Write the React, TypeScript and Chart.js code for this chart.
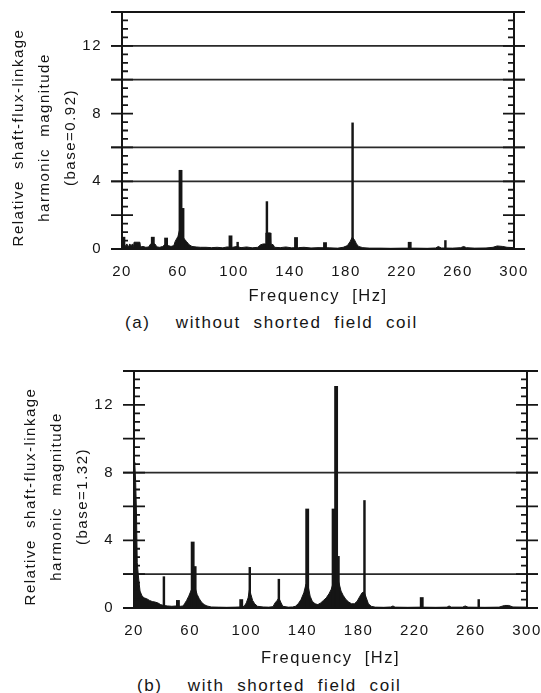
import React, { useEffect, useRef } from 'react';
import { Chart, registerables } from 'chart.js';

Chart.register(...registerables);

// ---------- axis ranges / ticks ----------
const freqMin = 20;
const freqMax = 300;
const freqStep = 40;
const magMin = 0;
const magMax = 14;
const magStep = 2;
const magLabelStep = 4;
const magMinorStep = 0.5;

// ---------- panel (a): without shorted field coil ----------
const aFloorFreq = [20, 21.5, 22.5, 23.5, 24.5, 25.5, 26.5, 27.5, 28.3, 28.6, 32.8, 33.2, 35, 37, 39, 40.5, 43.5, 45, 47, 49, 50.5, 53, 55, 57, 58, 59, 60, 61, 62, 63, 64, 65, 66, 67, 68, 70, 73, 76, 80, 84, 88, 92, 95, 99, 102, 105, 109, 113, 117, 119, 121, 122.6, 122.8, 126, 126.3, 128, 129, 133, 137, 141, 146, 150, 155, 160, 168, 174, 178, 181, 183, 184.5, 186, 187.5, 189, 192, 197, 205, 212, 220, 230, 238, 244, 246, 248, 256, 262, 264, 266, 272, 280, 285, 288, 292, 295, 300];
const aFloorMag = [0.3, 0.35, 0.15, 0.3, 0.1, 0.3, 0.2, 0.3, 0.15, 0.4, 0.4, 0.12, 0.15, 0.1, 0.12, 0.3, 0.3, 0.12, 0.1, 0.15, 0.25, 0.2, 0.15, 0.2, 0.45, 0.6, 0.75, 1.1, 1.1, 0.9, 0.65, 0.55, 0.45, 0.35, 0.25, 0.15, 0.12, 0.1, 0.1, 0.08, 0.1, 0.07, 0.12, 0.1, 0.15, 0.08, 0.12, 0.07, 0.1, 0.25, 0.3, 0.3, 0.95, 0.95, 0.3, 0.25, 0.1, 0.08, 0.12, 0.07, 0.08, 0.1, 0.06, 0.08, 0.07, 0.05, 0.1, 0.2, 0.45, 0.7, 0.55, 0.3, 0.15, 0.08, 0.05, 0.05, 0.04, 0.05, 0.05, 0.04, 0.06, 0.15, 0.06, 0.05, 0.08, 0.15, 0.08, 0.05, 0.06, 0.1, 0.18, 0.15, 0.1, 0.08];
const aWideFreq = [21, 42, 51.5, 61.8, 63.2, 97.5, 144.3, 165, 225.5];
const aWideMag = [0.7, 0.7, 0.65, 4.65, 2.4, 0.78, 0.68, 0.38, 0.4];
const aThinFreq = [102.6, 123.5, 184.7, 251];
const aThinMag = [0.4, 2.8, 7.45, 0.5];
const aGridLines = [4, 6, 10, 12];
const aYTitle = ['Relative  shaft-flux-linkage', 'harmonic  magnitude', '(base=0.92)'];
const aCaption = '(a)    without  shorted  field  coil';

// ---------- panel (b): with shorted field coil ----------
const bFloorFreq = [20, 20.6, 21.2, 21.8, 22.3, 23, 23.6, 24.3, 25.5, 27, 29, 31, 33, 35, 37, 39, 41, 44, 47, 50, 53, 55, 56, 57.5, 59, 60.5, 62, 63.5, 65, 66.5, 68, 70, 72, 75, 80, 86, 92, 95, 98.5, 100, 101.3, 102.3, 103.3, 104.5, 106, 108, 112, 116, 119, 120.5, 122, 123.2, 124.5, 126, 130, 133, 135, 137, 139, 141, 142.5, 144.3, 145.5, 147, 149, 151, 153, 155, 157, 159, 160.5, 162, 163, 164.5, 166, 167.5, 169, 171, 173, 175, 177, 179, 181, 182.5, 184, 185.5, 187, 189, 192, 198, 203, 204.5, 206, 215, 224, 235, 243, 244.5, 246, 254, 256, 258, 270, 280, 284, 287, 290, 300];
const bFloorMag = [8.6, 8.5, 7.4, 5.5, 2.7, 2.0, 1.5, 1.0, 0.75, 0.6, 0.55, 0.45, 0.38, 0.35, 0.3, 0.2, 0.15, 0.12, 0.1, 0.12, 0.1, 0.12, 0.25, 0.45, 0.7, 1.0, 1.3, 1.2, 0.8, 0.55, 0.35, 0.2, 0.12, 0.06, 0.05, 0.04, 0.05, 0.06, 0.1, 0.3, 0.6, 1.1, 0.8, 0.45, 0.25, 0.1, 0.06, 0.05, 0.08, 0.3, 0.45, 0.6, 0.35, 0.1, 0.05, 0.06, 0.1, 0.25, 0.5, 0.9, 1.4, 1.2, 0.7, 0.4, 0.25, 0.2, 0.3, 0.45, 0.6, 0.85, 1.1, 1.5, 1.7, 1.9, 1.5, 1.0, 0.75, 0.5, 0.35, 0.25, 0.25, 0.4, 0.7, 0.9, 0.95, 0.6, 0.25, 0.1, 0.05, 0.04, 0.06, 0.12, 0.05, 0.04, 0.05, 0.04, 0.05, 0.12, 0.05, 0.05, 0.12, 0.05, 0.04, 0.05, 0.15, 0.15, 0.06, 0.05];
const bWideFreq = [51.3, 61.8, 63.2, 96.4, 143.4, 162.2, 164, 165.2, 225];
const bWideMag = [0.45, 3.9, 2.45, 0.5, 5.85, 5.85, 13.1, 3.05, 0.62];
const bThinFreq = [41.3, 102.5, 123.2, 184.2, 265.6];
const bThinMag = [1.85, 2.4, 1.7, 6.35, 0.5];
const bGridLines = [2, 8];
const bYTitle = ['Relative  shaft-flux-linkage', 'harmonic  magnitude', '(base=1.32)'];
const bCaption = '(b)    with  shorted  field  coil';

const xTitle = 'Frequency  [Hz]';

// ---------- styling ----------
const FONT = "'Liberation Sans', Arial, Helvetica, sans-serif";
const INK = '#151515';
const GRID_INK = '#2a2a2a';
const PLOT_LEFT = 122;
const PLOT_TOP = 12;
const PLOT_BOTTOM = 249;
const EXT = 11;
const MINOR_LEN = 6;
const Y_TITLE_SHIFT = 7;

type Panel = {
  floorFreq: number[];
  floorMag: number[];
  wideFreq: number[];
  wideMag: number[];
  thinFreq: number[];
  thinMag: number[];
  gridLines: number[];
  yTitle: string[];
};

const toPoints = (fs: number[], ms: number[]) => fs.map((x, i) => ({ x, y: ms[i] }));

function makeFramePlugin(gridLines: number[]) {
  return {
    id: 'frame',
    afterLayout(chart: any) {
      // nudge only the vertical centre used for the rotated y-axis title
      chart.scales.y.bottom += 2 * Y_TITLE_SHIFT;
    },
    beforeDraw(chart: any) {
      chart.ctx.letterSpacing = '1.5px';
    },
    beforeDatasetsDraw(chart: any) {
      const { ctx, chartArea: a, scales } = chart;
      const y = scales.y;
      ctx.save();
      ctx.strokeStyle = GRID_INK;
      ctx.lineWidth = 1.7;
      ctx.beginPath();
      for (const v of gridLines) {
        const py = y.getPixelForValue(v);
        ctx.moveTo(a.left - EXT, py);
        ctx.lineTo(a.right + EXT, py);
      }
      ctx.stroke();
      ctx.restore();
    },
    afterDatasetsDraw(chart: any) {
      const { ctx, chartArea: a, scales } = chart;
      const y = scales.y;
      const pTop = y.getPixelForValue(y.max);
      const pBot = y.getPixelForValue(y.min);
      ctx.save();
      ctx.strokeStyle = INK;
      ctx.lineWidth = 2;
      ctx.beginPath();
      ctx.moveTo(a.left - EXT, pTop);
      ctx.lineTo(a.right + EXT, pTop);
      ctx.moveTo(a.left, pTop);
      ctx.lineTo(a.left, pBot);
      ctx.moveTo(a.right, pTop);
      ctx.lineTo(a.right, pBot);
      ctx.moveTo(a.left, pBot);
      ctx.lineTo(a.right, pBot);
      ctx.stroke();
      ctx.lineWidth = 1.8;
      ctx.beginPath();
      for (let v = y.min; v <= y.max + 1e-9; v += magMinorStep) {
        const py = y.getPixelForValue(v);
        const major = Math.abs(v / magStep - Math.round(v / magStep)) < 1e-6;
        if (major) {
          ctx.moveTo(a.left - EXT, py);
          ctx.lineTo(a.left + EXT, py);
          ctx.moveTo(a.right - EXT, py);
          ctx.lineTo(a.right + EXT, py);
        } else {
          ctx.moveTo(a.left, py);
          ctx.lineTo(a.left + MINOR_LEN, py);
          ctx.moveTo(a.right - MINOR_LEN, py);
          ctx.lineTo(a.right, py);
        }
      }
      ctx.stroke();
      ctx.restore();
    },
  };
}

function buildConfig(p: Panel, height: number, padRight: number): any {
  return {
    type: 'bar',
    data: {
      datasets: [
        {
          type: 'line',
          data: toPoints(p.floorFreq, p.floorMag),
          borderColor: INK,
          backgroundColor: INK,
          borderWidth: 1,
          pointRadius: 0,
          fill: 'origin',
          tension: 0,
          order: 3,
        },
        {
          type: 'bar',
          data: toPoints(p.wideFreq, p.wideMag),
          backgroundColor: INK,
          borderWidth: 0,
          barThickness: 3.2,
          grouped: false,
          order: 2,
        },
        {
          type: 'bar',
          data: toPoints(p.thinFreq, p.thinMag),
          backgroundColor: INK,
          borderWidth: 0,
          barThickness: 1.8,
          grouped: false,
          order: 1,
        },
      ],
    },
    options: {
      responsive: false,
      animation: false,
      events: [],
      layout: { padding: { top: PLOT_TOP, right: padRight, left: 0, bottom: 0 } },
      plugins: { legend: { display: false }, tooltip: { enabled: false } },
      scales: {
        x: {
          type: 'linear',
          min: freqMin,
          max: freqMax,
          offset: false,
          grid: { display: false, drawTicks: false },
          border: { display: false },
          ticks: {
            stepSize: freqStep,
            autoSkip: false,
            maxRotation: 0,
            padding: 14,
            color: INK,
            font: { family: FONT, size: 15 },
          },
          title: {
            display: true,
            text: xTitle,
            color: INK,
            font: { family: FONT, size: 16.5, lineHeight: '20px' },
            padding: { top: 0, bottom: 4 },
          },
          afterFit: (s: any) => {
            s.height = height - PLOT_BOTTOM;
            s.paddingLeft = 0;
            s.paddingRight = 0;
          },
        },
        y: {
          type: 'linear',
          min: magMin,
          max: magMax,
          grid: { display: false, drawTicks: false },
          border: { display: false },
          ticks: {
            stepSize: magStep,
            padding: 20,
            color: INK,
            font: { family: FONT, size: 15 },
            callback: (v: number) => (v % magLabelStep === 0 && v < magMax ? String(v) : ''),
          },
          title: {
            display: true,
            text: p.yTitle,
            color: INK,
            font: { family: FONT, size: 15, lineHeight: '26px' },
            padding: { top: 6, bottom: 0 },
          },
          afterFit: (s: any) => {
            s.width = PLOT_LEFT;
            s.paddingTop = 0;
            s.paddingBottom = 0;
          },
        },
      },
    },
    plugins: [makeFramePlugin(p.gridLines)],
  };
}

function SpectrumChart(props: {
  panel: Panel;
  left: number;
  top: number;
  width: number;
  height: number;
  padRight: number;
}) {
  const { panel, left, top, width, height, padRight } = props;
  const ref = useRef<HTMLCanvasElement>(null);
  useEffect(() => {
    const chart = new Chart(ref.current as HTMLCanvasElement, buildConfig(panel, height, padRight));
    return () => chart.destroy();
  }, []);
  return (
    <canvas
      ref={ref}
      width={width}
      height={height}
      style={{ position: 'absolute', left, top, width, height, display: 'block' }}
    />
  );
}

const captionStyle: React.CSSProperties = {
  position: 'absolute',
  fontFamily: FONT,
  fontSize: 17,
  lineHeight: '18px',
  letterSpacing: '1.6px',
  whiteSpace: 'pre',
  color: INK,
};

const panelA: Panel = {
  floorFreq: aFloorFreq,
  floorMag: aFloorMag,
  wideFreq: aWideFreq,
  wideMag: aWideMag,
  thinFreq: aThinFreq,
  thinMag: aThinMag,
  gridLines: aGridLines,
  yTitle: aYTitle,
};

const panelB: Panel = {
  floorFreq: bFloorFreq,
  floorMag: bFloorMag,
  wideFreq: bWideFreq,
  wideMag: bWideMag,
  thinFreq: bThinFreq,
  thinMag: bThinMag,
  gridLines: bGridLines,
  yTitle: bYTitle,
};

export default function App() {
  return (
    <div
      style={{
        position: 'absolute',
        left: 0,
        top: 0,
        width: 541,
        height: 693,
        overflow: 'hidden',
        background: '#fff',
      }}
    >
      <SpectrumChart panel={panelA} left={0} top={0} width={541} height={310} padRight={27} />
      <div style={{ ...captionStyle, left: 125, top: 314 }}>{aCaption}</div>
      <SpectrumChart panel={panelB} left={12} top={359} width={541} height={313} padRight={26} />
      <div style={{ ...captionStyle, left: 137, top: 677 }}>{bCaption}</div>
    </div>
  );
}
